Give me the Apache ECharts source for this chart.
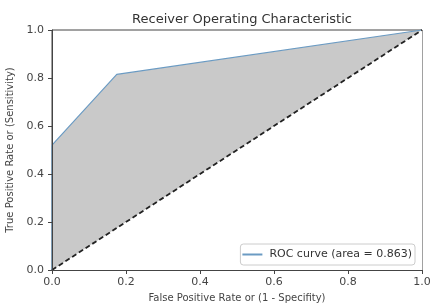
<!DOCTYPE html>
<html>
<head>
<meta charset="utf-8">
<script src="https://cdn.jsdelivr.net/npm/echarts@6/dist/echarts.min.js"></script>
<style>
  html, body { margin: 0; padding: 0; background: #fff; }
  #chart { width: 430px; height: 303px; }
</style>
</head>
<body>
<div id="chart"></div>
<script>
  // ROC curve points
  const fpr = [0, 0, 0.175, 1];
  const tpr = [0, 0.52, 0.815, 1];
  const diagX = [0, 1];
  const diagY = [0, 1];
  const ticks = [0, 0.2, 0.4, 0.6, 0.8, 1.0];
  const rocName = "ROC curve (area = 0.863)";

  const chart = echarts.init(document.getElementById("chart"));

  const axisCommon = {
    type: "value",
    min: 0,
    max: 1,
    interval: 0.2,
    z: 10,
    axisLine: { show: true, onZero: false, lineStyle: { color: "#444", width: 1 } },
    axisTick: { show: true, length: 4, lineStyle: { color: "#444" } },
    axisLabel: {
      color: "#444",
      fontSize: 11,
      fontFamily: "DejaVu Sans",
      formatter: (v) => (ticks.includes(Math.round(v * 10) / 10) ? v.toFixed(1) : "")
    },
    splitLine: { show: false },
    nameLocation: "middle",
    nameTextStyle: { color: "#444", fontSize: 10, fontFamily: "DejaVu Sans" }
  };

  const option = {
    backgroundColor: "#fff",
    animation: false,
    title: {
      text: "Receiver Operating Characteristic",
      left: 237,
      textAlign: "center",
      top: 8,
      textStyle: { color: "#333", fontSize: 13, fontWeight: "normal", fontFamily: "DejaVu Sans" }
    },
    grid: {
      left: 52, right: 8, top: 30, bottom: 33,
      outerBoundsMode: "none",
      containLabel: false,
      show: true, borderColor: "#444", borderWidth: 1, backgroundColor: "#fff"
    },
    xAxis: Object.assign({}, axisCommon, {
      name: "False Positive Rate or (1 - Specifity)",
      nameGap: 23,
      axisLabel: Object.assign({}, axisCommon.axisLabel, { margin: 7 })
    }),
    yAxis: Object.assign({}, axisCommon, {
      name: "True Positive Rate or (Sensitivity)",
      nameGap: 32,
      axisLabel: Object.assign({}, axisCommon.axisLabel, { margin: 8 })
    }),
    legend: {
      data: [{ name: rocName, icon: "path://M0,0 L20,0 L20,2 L0,2 Z" }],
      right: 15,
      bottom: 38,
      orient: "vertical",
      itemWidth: 24,
      itemHeight: 2,
      padding: [5, 3, 5, 2],
      borderColor: "#ccc",
      borderWidth: 1,
      borderRadius: 3,
      backgroundColor: "#fff",
      textStyle: { color: "#333", fontSize: 11, fontFamily: "DejaVu Sans" }
    },
    series: [
      {
        name: rocName,
        type: "line",
        data: fpr.map((x, i) => [x, tpr[i]]),
        showSymbol: false,
        lineStyle: { color: "#6b9bc3", width: 1.2 },
        itemStyle: { color: "#6b9bc3" },
        areaStyle: { color: "#c9c9c9", opacity: 1 },
        z: 2
      },
      {
        name: "diag",
        type: "line",
        data: diagX.map((x, i) => [x, diagY[i]]),
        showSymbol: false,
        lineStyle: { color: "#222", width: 1.8, type: [5, 3] },
        areaStyle: { color: "#fff", opacity: 1 },
        z: 3
      }
    ]
  };

  chart.setOption(option);
</script>
</body>
</html>
